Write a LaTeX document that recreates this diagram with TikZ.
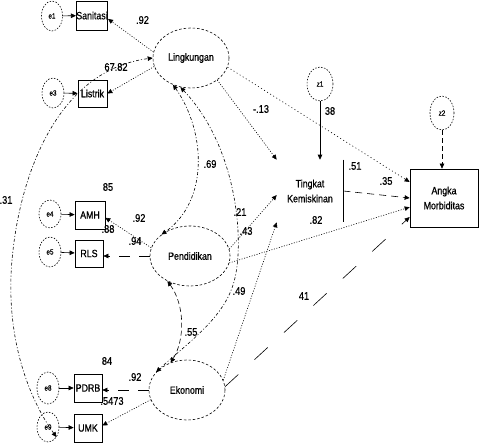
\documentclass[tikz,border=0pt]{standalone}
\usepackage{fontspec}
\setmainfont{Liberation Sans}
\newfontfamily\cond[FakeStretch=0.84,FakeBold=0.7]{Liberation Sans}
\usetikzlibrary{arrows.meta,shapes.geometric}
\begin{document}
\begin{tikzpicture}[x=1pt,y=-1pt,line width=0.6pt,
  every node/.style={font=\cond\fontsize{10.5}{15}\selectfont, inner sep=0pt},
  num/.style={font=\cond\fontsize{11}{12}\selectfont},
  lat/.style={ellipse, draw, dash pattern=on 2.5pt off 2pt},
  err/.style={ellipse, draw, dash pattern=on 1.5pt off 1.5pt, font=\cond\fontsize{7.5}{8}\selectfont},
  obs/.style={rectangle, draw, line width=0.7pt},
  tip/.style={-{Triangle[length=5pt,width=4.5pt]}},
  both/.style={{Triangle[length=5pt,width=4.5pt]}-{Triangle[length=5pt,width=4.5pt]}},
  pdot/.style={dash pattern=on 1pt off 1.6pt},
  psparse/.style={dash pattern=on 1pt off 2.6pt},
  pdashdot/.style={dash pattern=on 3pt off 2pt on 1pt off 2pt},
  pdash/.style={dash pattern=on 5pt off 3pt},
  pmid/.style={dash pattern=on 11pt off 9pt},
  pshort/.style={dash pattern=on 7pt off 5pt},
  plong/.style={dash pattern=on 18pt off 22pt}]
\useasboundingbox (0,0) rectangle (479,444);
% observed
\node[obs, minimum width=30pt, minimum height=29pt] (San) at (92,15.5) {Sanitasi};
\node[obs, minimum width=29pt, minimum height=27pt] (Lis) at (92.5,93.5) {Listrik};
\node[obs, minimum width=30pt, minimum height=28pt] (AMH) at (90,215) {AMH};
\node[obs, minimum width=28pt, minimum height=27pt] (RLS) at (89,253.5) {RLS};
\node[obs, minimum width=28pt, minimum height=28pt] (PDRB) at (88,388) {PDRB};
\node[obs, minimum width=28pt, minimum height=28pt] (UMK) at (88,428) {UMK};
\node[obs, minimum width=68pt, minimum height=58pt, align=center] (AM) at (444,198) {Angka\\Morbiditas};
\node[minimum width=66pt, minimum height=62pt, align=center] (TK) at (310,191) {Tingkat\\Kemiskinan};
\draw[line width=0.7pt] (TK.north east) -- (TK.south east);
% errors
\node[err, minimum width=21pt, minimum height=30pt] (e1) at (52,16) {e1};
\node[err, minimum width=22pt, minimum height=30pt] (e3) at (53,93) {e3};
\node[err, minimum width=22pt, minimum height=28pt] (e4) at (50,214) {e4};
\node[err, minimum width=22pt, minimum height=30pt] (e5) at (50,252) {e5};
\node[err, minimum width=22pt, minimum height=32pt] (e8) at (48,388) {e8};
\node[err, minimum width=22pt, minimum height=30pt] (e9) at (48,427) {e9};
\node[err, minimum width=26pt, minimum height=34pt] (z1) at (320,84) {z1};
\node[err, minimum width=24pt, minimum height=34pt] (z2) at (442,113) {z2};
% latents
\node[lat, minimum width=76pt, minimum height=60pt] (Ling) at (191,58) {Lingkungan};
\node[lat, minimum width=80pt, minimum height=60pt] (Pend) at (190,256) {Pendidikan};
\node[lat, minimum width=76pt, minimum height=60pt] (Eko) at (187,390) {Ekonomi};
% error arrows
\draw[tip] (e1) -- (San);
\draw[tip] (e3) -- (Lis);
\draw[tip] (e4) -- (AMH);
\draw[tip] (e5) -- (RLS);
\draw[tip] (e8) -- (PDRB);
\draw[tip] (e9) -- (UMK);
% loadings
\draw[pdot,tip] (Ling.171) -- (San.-12);
\draw[pdot,tip] (Ling.193) -- (Lis.east);
\draw[pdot,tip] (Pend.168) -- (AMH.-10);
\draw[pmid,tip] (Pend.west) -- (Pend.west -| RLS.east);
\draw[pmid,tip] (Eko.west) -- (Eko.west -| PDRB.east);
\draw[pdot,tip] (Eko.195) -- (UMK.10);
% covariances
\draw[pdashdot,both] (e9.-50) .. controls (30,400) and (5,340) .. (12,260) .. controls (20,170) and (60,70) .. (Ling.180);
\draw[pdashdot,both] (Ling.236) .. controls (205,130) and (210,200) .. (Pend.143);
\draw[pdashdot,both] (Ling.250) .. controls (240,150) and (245,250) .. (233,285) .. controls (222,320) and (185,345) .. (Eko.150);
\draw[pdash,both] (Pend.228) .. controls (185,305) and (185,340) .. (Eko.121);
% structural paths
\draw[pdot,tip] (Ling.-40) -- (TK.north west);
\draw[psparse,tip] (Ling.-14) -- (AM.155);
\draw[tip] (z1.south) -- (z1.south |- TK.north);
\draw[pdash,tip] (z2.south) -- (z2.south |- AM.north);
\draw[pdot,tip] (Pend.10) -- (TK.187);
\draw[pdot,tip] (Pend.-10) -- (AM.195);
\draw[pshort,tip] (TK.east) -- (AM.west);
\draw[pdot,tip] (Eko.15) -- (TK.south west);
\draw[plong,tip] (Eko.5) -- (AM.209);
% labels
\node[num] (t1) at (142.5,20) {.92};
\node[num] (t2) at (116,67) {67.82};
\node[num] (t3) at (6,200) {.31};
\node[num] (t4) at (210,164) {.69};
\node[num] (t5) at (261,109) {-.13};
\node[num] (t6) at (330,111) {38};
\node[num] (t7) at (108,187) {85};
\node[num] (t8) at (139,218) {.92};
\node[num] (t9) at (108,229) {.88};
\node[num] (t10) at (135,241) {.94};
\node[num] (t11) at (240,212) {.21};
\node[num] (t12) at (246,231) {.43};
\node[num] (t13) at (316,220) {.82};
\node[num] (t14) at (239,291) {.49};
\node[num] (t15) at (191,332) {.55};
\node[num] (t16) at (304,296) {41};
\node[num] (t17) at (355,166) {.51};
\node[num] (t18) at (386,181) {.35};
\node[num] (t19) at (107,361) {84};
\node[num] (t20) at (135,377) {.92};
\node[num] (t21) at (112,401) {.5473};
\end{tikzpicture}
\end{document}
